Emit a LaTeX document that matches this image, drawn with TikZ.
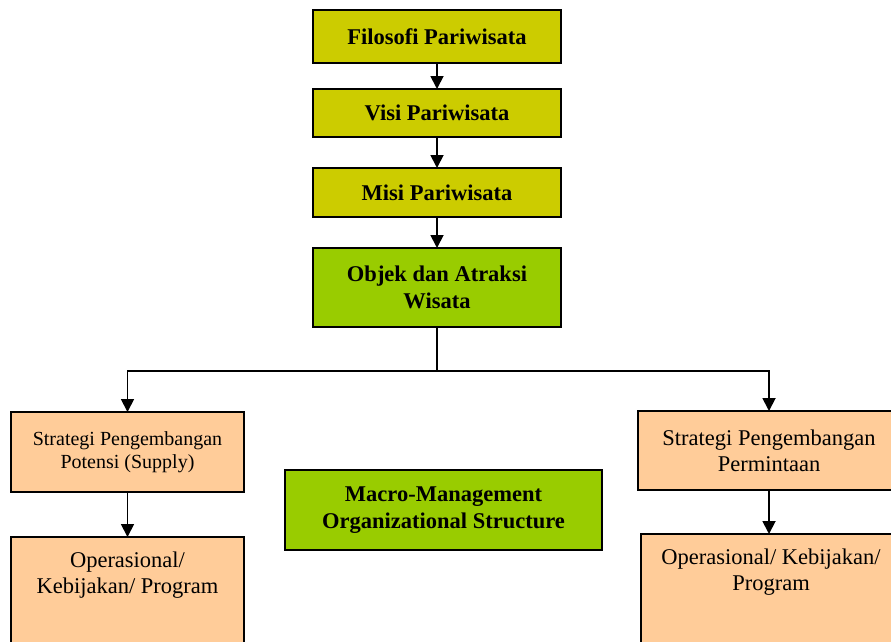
\documentclass[tikz,border=0pt]{standalone}
\usepackage{fontspec}
\setmainfont{Liberation Serif}
\usetikzlibrary{arrows.meta}
\definecolor{olivebox}{HTML}{CCCC00}
\definecolor{greenbox}{HTML}{99CC00}
\definecolor{peachbox}{HTML}{FFCC99}
\begin{document}
\begin{tikzpicture}[x=1pt,y=-1pt,
  box/.style={draw=black,line width=1.8pt,rectangle,inner sep=0pt,outer sep=0pt,align=center,anchor=north west},
  bigbold/.style={font=\fontsize{22.5}{27}\selectfont\bfseries},
  bignorm/.style={font=\fontsize{22.5}{26}\selectfont},
  smallnorm/.style={font=\fontsize{20}{23}\selectfont},
  txt/.style={inner sep=0pt,align=center,anchor=north},
  conn/.style={line width=1.8pt,-{Triangle[length=13pt,width=13pt]}}]
\useasboundingbox (0,0) rectangle (891,641);
\clip (0,0) rectangle (891,641);
% top chain
\node[box,fill=olivebox,bigbold,minimum width=248pt,minimum height=53pt] (fil) at (313,10) {Filosofi Pariwisata};
\node[box,fill=olivebox,bigbold,minimum width=248pt,minimum height=48pt] (visi) at (313,89) {Visi Pariwisata};
\node[box,fill=olivebox,bigbold,minimum width=248pt,minimum height=49pt] (misi) at (313,168) {Misi Pariwisata};
\node[box,fill=greenbox,bigbold,minimum width=248pt,minimum height=79pt] (obj) at (313,248) {Objek dan Atraksi\\Wisata};
% left column
\node[box,fill=peachbox,smallnorm,minimum width=233pt,minimum height=80pt] (ls) at (11,412) {Strategi Pengembangan\\Potensi (Supply)};
\node[box,fill=peachbox,minimum width=233pt,minimum height=150pt] (lo) at (11,537) {};
\node[txt,bignorm] (lot) at (127.5,551.6) {Operasional/\\Kebijakan/ Program};
% middle
\node[box,fill=greenbox,bigbold,minimum width=317pt,minimum height=80pt] (mac) at (285,470) {Macro-Management\\Organizational Structure};
% right column
\node[box,fill=peachbox,bignorm,minimum width=262pt,minimum height=79pt] (rs) at (638,411) {Strategi Pengembangan\\Permintaan};
\node[box,fill=peachbox,minimum width=260pt,minimum height=150pt] (ro) at (641,534) {};
\node[txt,bignorm] (rot) at (771,548.6) {Operasional/ Kebijakan/\\Program};
% connectors
\draw[conn] (fil.south) -- (visi.north);
\draw[conn] (visi.south) -- (misi.north);
\draw[conn] (misi.south) -- (obj.north);
\coordinate (jn) at (obj.south |- 0,371);
\draw[line width=1.8pt] (obj.south) -- (jn);
\draw[conn] (jn) -| (ls.north);
\draw[conn] (jn) -| (rs.north);
\draw[conn] (ls.south) -- (lo.north);
\draw[conn] (rs.south) -- (rs.south |- ro.north);
\end{tikzpicture}
\end{document}
